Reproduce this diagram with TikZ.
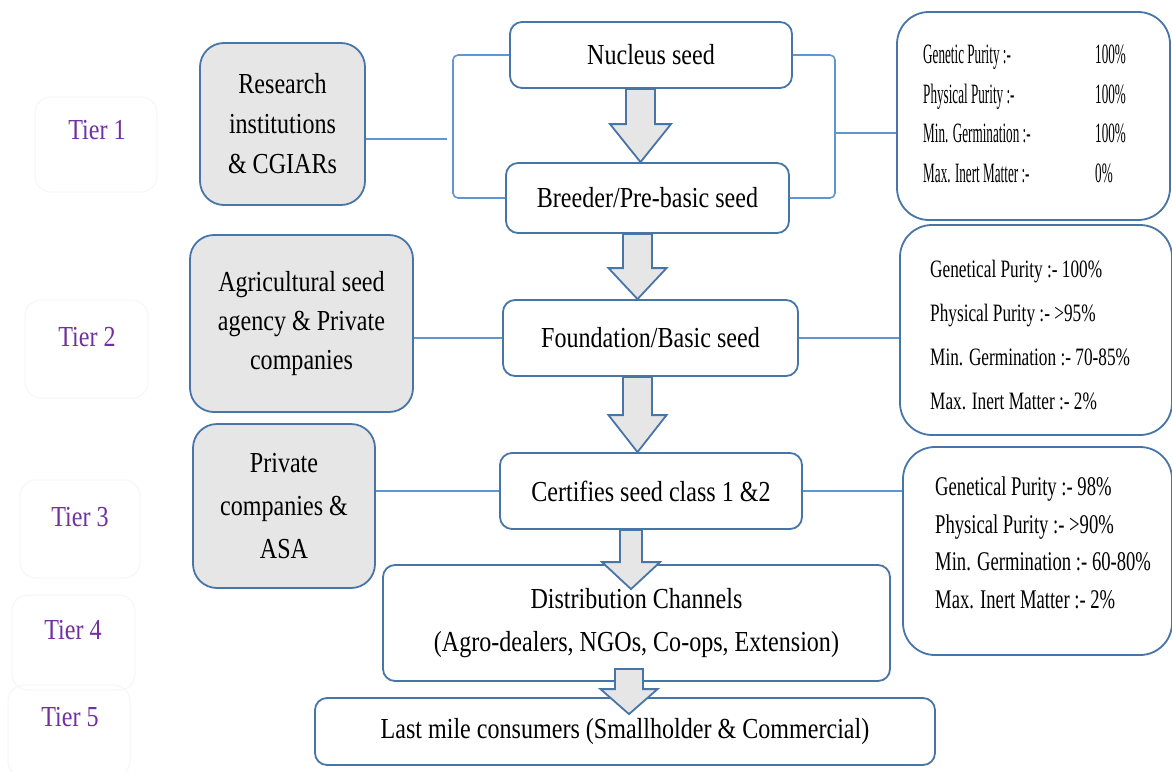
\documentclass[tikz,border=0pt]{standalone}
\usepackage{fontspec}
\setmainfont{Liberation Serif}[FakeStretch=0.83]
\newfontfamily\qfa{Liberation Serif}[FakeStretch=0.47]
\newfontfamily\qfb{Liberation Serif}[FakeStretch=0.69]
\usetikzlibrary{calc}
\definecolor{boxblue}{RGB}{72,117,168}
\definecolor{linkblue}{RGB}{95,150,210}
\definecolor{boxgray}{RGB}{230,230,230}
\definecolor{tierpurple}{RGB}{112,48,160}
\definecolor{tierline}{RGB}{246,246,246}
\newcommand\barrow[8]{%
\path[barr] let \p1=(#1.south), \p2=(#2.north) in
 (#3pt-#4pt,\y1+#7pt) -- (#3pt-#4pt,\y2-#8pt+#6pt) -- (#3pt-#5pt,\y2-#8pt+#6pt) -- (#3pt,\y2-#8pt) -- (#3pt+#5pt,\y2-#8pt+#6pt) -- (#3pt+#4pt,\y2-#8pt+#6pt) -- (#3pt+#4pt,\y1+#7pt) -- cycle;}
\begin{document}
\begin{tikzpicture}[x=1pt,y=-1pt,
 flow/.style={draw=boxblue, line width=1.8pt, rounded corners=12pt, fill=white, align=center, inner sep=0pt, font=\fontsize{29}{40}\selectfont},
 actor/.style={draw=boxblue, line width=1.8pt, rounded corners=24pt, fill=boxgray, align=center, inner sep=0pt, font=\fontsize{29}{40}\selectfont},
 qbox/.style={draw=boxblue, line width=1.8pt, rounded corners=32pt, fill=white, inner sep=0pt},
 tierbox/.style={draw=tierline, line width=1pt, rounded corners=16pt, inner sep=0pt},
 tiertext/.style={text=tierpurple, font=\fontsize{29}{32}\selectfont, inner sep=0pt},
 link/.style={draw=linkblue, line width=1.6pt},
 barr/.style={draw=boxblue, fill=boxgray, line width=1.8pt, line join=miter}]
\useasboundingbox (0,0) rectangle (1172,771);
\fill[white] (0,0) rectangle (1172,771);
% tiers
\node[tierbox, minimum width=122pt, minimum height=95pt] (t1) at (96,144.5) {};
\node[tiertext] (t1l) at (97,130) {Tier 1};
\node[tierbox, minimum width=123pt, minimum height=98pt] (t2) at (86.5,349) {};
\node[tiertext] (t2l) at (87,337) {Tier 2};
\node[tierbox, minimum width=120pt, minimum height=98pt] (t3) at (80,529) {};
\node[tiertext] (t3l) at (80,517) {Tier 3};
\node[tierbox, minimum width=123pt, minimum height=95pt] (t4) at (73.5,642.5) {};
\node[tiertext] (t4l) at (73,630) {Tier 4};
\node[tierbox, minimum width=122pt, minimum height=92pt] (t5) at (69,731) {};
\node[tiertext] (t5l) at (70,717) {Tier 5};
% actors
\node[actor, minimum width=165pt, minimum height=162pt] (res) at (282.5,124) {Research\\institutions\\\& CGIARs};
\node[actor, minimum width=223pt, minimum height=177pt, font=\fontsize{29}{39}\selectfont] (agr) at (301.5,323.5) {Agricultural seed\\agency \& Private\\companies};
\node[actor, minimum width=182pt, minimum height=164pt, font=\fontsize{29}{43}\selectfont] (prv) at (284,506) {Private\\companies \&\\ASA};
% flow
\node[flow, minimum width=282pt, minimum height=66pt] (nuc) at (651,55) {Nucleus seed};
\node[flow, minimum width=283pt, minimum height=70pt] (brd) at (647.5,198) {Breeder/Pre-basic seed};
\node[flow, minimum width=295pt, minimum height=76pt] (fnd) at (650.5,338) {Foundation/Basic seed};
\node[flow, minimum width=302pt, minimum height=76pt] (crt) at (651,491) {Certifies seed class 1 \&2};
\node[flow, minimum width=507pt, minimum height=116pt, font=\fontsize{29}{43}\selectfont] (dst) at (636.5,623) {Distribution Channels\\(Agro-dealers, NGOs, Co-ops, Extension)};
\node[flow, minimum width=620pt, minimum height=67pt] (lst) at (625,731.5) {Last mile consumers (Smallholder \& Commercial)};
% quality boxes
\node[qbox, minimum width=273pt, minimum height=208pt] (q1) at (1033.5,116) {};
\node[anchor=west, align=left, inner sep=0pt, font=\qfa\fontsize{28}{39.5}\selectfont] (q1t) at (923,114) {\makebox[172pt][l]{Genetic Purity :-}100\%\\\makebox[172pt][l]{Physical Purity :-}100\%\\\makebox[172pt][l]{Min. Germination :-}100\%\\\makebox[172pt][l]{Max. Inert Matter :-}0\%};
\node[qbox, minimum width=272pt, minimum height=210pt] (q2) at (1036,330) {};
\node[anchor=west, align=left, inner sep=0pt, font=\qfb\fontsize{25}{44}\selectfont] (q2t) at (930,335) {Genetical Purity :- 100\%\\Physical Purity :- >95\%\\Min. Germination :- 70-85\%\\Max. Inert Matter :- 2\%};
\node[qbox, minimum width=269pt, minimum height=208pt] (q3) at (1037.5,551) {};
\node[anchor=west, align=left, inner sep=0pt, font=\qfb\fontsize{27}{37.5}\selectfont] (q3t) at (935,543) {Genetical Purity :- 98\%\\Physical Purity :- >90\%\\Min. Germination :- 60-80\%\\Max. Inert Matter :- 2\%};
% links
\coordinate (lb) at (453,130);
\coordinate (lbj) at (447,139);
\coordinate (rb) at (835,133);
\draw[link, rounded corners=5pt] (nuc.west) -| (lb) |- (brd.west);
\draw[link] (res.east |- lbj) -- (lbj);
\draw[link, rounded corners=5pt] (nuc.east) -| (rb) |- (brd.east);
\draw[link] (rb) -- (rb -| q1.west);
\draw[link] (agr.east |- fnd.west) -- (fnd.west);
\draw[link] (fnd.east) -- (fnd.east -| q2.west);
\draw[link] (prv.east |- crt.west) -- (crt.west);
\draw[link] (crt.east) -- (crt.east -| q3.west);
% block arrows
\barrow{nuc}{brd}{640.5}{14.5}{30.5}{38}{0}{0}
\barrow{brd}{fnd}{637.5}{14.5}{29}{31}{0}{0}
\barrow{fnd}{crt}{637.5}{14.5}{29}{37}{0}{0}
\barrow{crt}{dst}{631}{11}{29}{27}{0}{25}
\barrow{dst}{lst}{629}{14}{28.5}{25}{13}{17}
\end{tikzpicture}
\end{document}
